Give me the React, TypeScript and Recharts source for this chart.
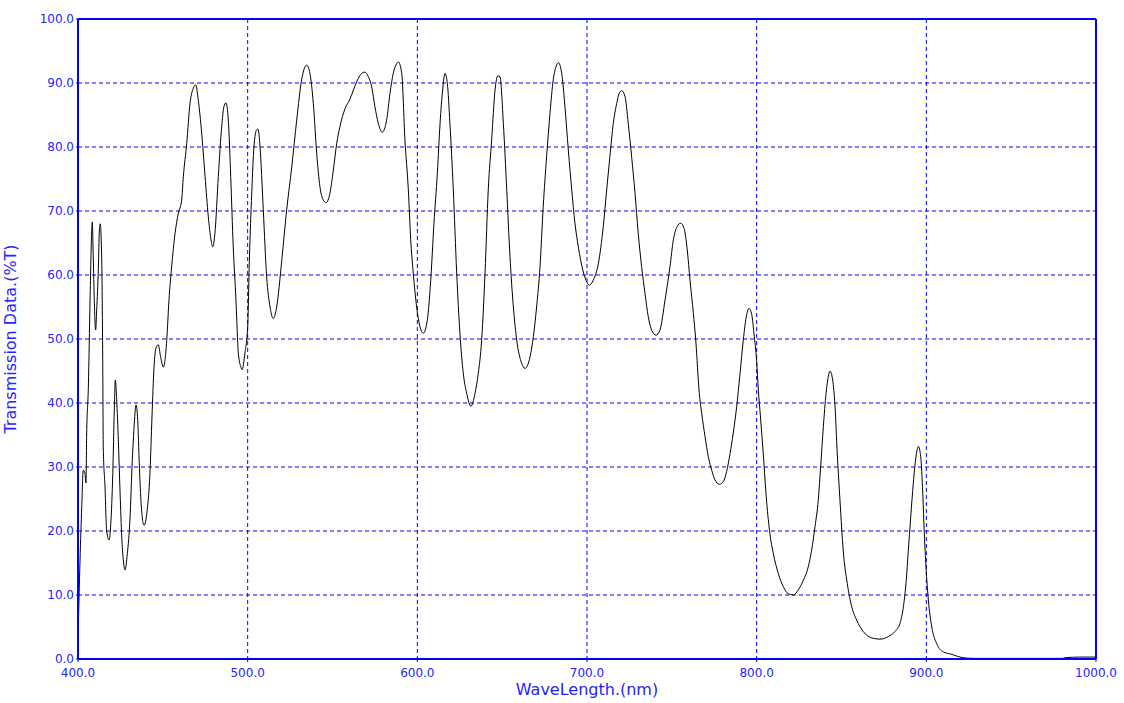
import React from 'react';
import {
  LineChart,
  Line,
  XAxis,
  YAxis,
  CartesianGrid,
  ReferenceLine,
} from 'recharts';

// wavelength (nm)
const wavelengths = [
  400.0, 401.2, 402.2, 403.1, 404.1, 404.7, 405.1, 406.1, 407.1, 408.1,
  408.4, 409.0, 409.6, 410.4, 411.0, 412.0, 412.6, 413.1, 414.0, 414.6,
  414.9, 415.9, 416.9, 418.3, 419.3, 420.5, 421.4, 422.0, 422.8, 423.8,
  424.8, 425.8, 426.7, 427.7, 429.1, 430.6, 432.0, 433.0, 434.2, 435.2,
  436.1, 437.1, 438.9, 440.8, 442.4, 443.6, 444.8, 446.0, 447.3, 448.7,
  450.3, 452.3, 453.6, 455.2, 457.2, 459.1, 461.1, 462.1, 464.1, 466.0,
  468.0, 469.4, 470.9, 472.9, 474.9, 476.8, 478.4, 479.4, 480.7, 482.7,
  484.7, 486.0, 487.2, 488.6, 490.0, 491.5, 493.1, 494.5, 495.9, 496.7,
  498.4, 500.0, 501.0, 502.4, 503.7, 505.3, 506.1, 507.3, 509.2, 511.2,
  513.2, 515.1, 517.1, 520.1, 523.0, 526.0, 528.9, 531.8, 534.8, 536.7,
  538.7, 540.7, 542.6, 544.6, 546.2, 548.5, 550.5, 552.5, 554.4, 557.4,
  560.3, 562.3, 565.2, 567.2, 569.1, 571.1, 573.1, 575.0, 577.0, 579.3,
  581.9, 583.9, 585.8, 587.8, 588.8, 590.8, 592.7, 594.7, 596.1, 597.6,
  599.6, 601.6, 603.5, 605.9, 607.9, 609.8, 611.8, 613.4, 614.9, 616.3,
  617.7, 619.2, 621.2, 623.2, 625.1, 627.1, 629.1, 631.6, 634.0, 635.9,
  637.9, 639.9, 641.8, 643.8, 645.8, 647.4, 648.7, 650.7, 652.7, 654.6,
  656.6, 658.6, 661.5, 663.5, 666.4, 668.4, 670.3, 672.3, 674.2, 676.2,
  678.2, 680.1, 682.1, 683.1, 685.1, 687.0, 689.0, 691.0, 692.9, 694.9,
  697.5, 699.4, 701.4, 703.7, 706.7, 709.6, 711.6, 713.5, 715.5, 717.5,
  719.0, 720.4, 722.4, 724.3, 726.3, 728.3, 730.2, 732.2, 734.2, 736.1,
  738.1, 740.7, 743.0, 746.0, 748.9, 750.9, 753.2, 755.2, 757.2, 759.1,
  760.7, 762.7, 764.1, 766.2, 767.6, 769.6, 771.5, 773.5, 775.4, 778.0,
  780.3, 782.3, 784.3, 786.2, 788.2, 790.2, 792.1, 794.1, 795.5, 797.1,
  798.4, 800.0, 801.0, 802.2, 803.9, 805.9, 807.8, 809.8, 812.7, 815.7,
  818.6, 821.6, 824.5, 827.5, 830.4, 832.4, 834.4, 836.3, 837.7, 839.3,
  840.9, 842.2, 843.2, 844.8, 846.2, 847.5, 849.1, 851.0, 853.4, 856.0,
  858.9, 862.8, 867.8, 872.7, 877.6, 881.5, 884.5, 886.5, 888.0, 889.4,
  890.8, 892.3, 893.9, 895.3, 896.7, 897.9, 898.8, 899.8, 901.2, 903.2,
  906.1, 910.0, 914.0, 921.8, 927.5, 980.5, 981.7, 990.5, 1000.0,
];

// transmission (%T), same order as wavelengths
const transmission = [
  3, 15.5, 23.7, 29.5, 29, 27.5, 35, 42.5, 56, 67,
  68.3, 62.8, 56, 51.4, 54.5, 61, 67, 68, 62, 45.6,
  33, 27, 20, 18.6, 21, 29, 39, 43.6, 40.5, 34,
  26, 19, 15.5, 13.9, 16.5, 21.7, 31, 36, 39.7, 37.3,
  30.6, 24.8, 20.9, 23.3, 29, 37.8, 45.6, 48.6, 49.1, 47.2,
  45.6, 49.8, 56, 61.3, 66.5, 69.6, 71.7, 75.4, 80.6, 86.8,
  89.2, 89.7, 87.3, 82.2, 75.4, 69.1, 65.5, 64.4, 66.5, 75.4,
  83.2, 86.3, 86.9, 84.2, 75.4, 64.4, 56.1, 47.8, 45.7, 45.2,
  47.8, 51.9, 62.3, 72.8, 80, 82.7, 82.8, 80, 70.2, 59.7,
  55, 53.2, 55, 62.3, 70.2, 76.9, 84.2, 90.5, 92.8, 91.5,
  86.8, 79, 73.8, 71.7, 71.3, 72.8, 76.4, 80.6, 83.2, 86,
  87.5, 88.9, 90.7, 91.5, 91.7, 91, 89.4, 86.3, 83.7, 82.3,
  84.2, 88.4, 91.5, 93, 93.3, 91.5, 81.1, 73.3, 65.5, 60.3,
  55, 51.9, 50.9, 53, 59.2, 68.1, 75.9, 83.7, 88.9, 91.5,
  89.9, 83.7, 73.3, 60.3, 50.9, 44.6, 41.5, 39.5, 41.5, 44.6,
  49.8, 60.3, 73.3, 81.1, 88.9, 91.1, 91, 83.7, 73.3, 62.9,
  55, 49.8, 46.2, 45.4, 47.2, 50.4, 55, 61.3, 70.7, 78.5,
  85.3, 90.5, 92.8, 93.2, 91.5, 86.3, 79.5, 73.3, 68.1, 64.4,
  60.8, 59.2, 58.4, 59.2, 61.8, 67.6, 73.3, 78.5, 83.7, 86.8,
  88.4, 88.8, 87.9, 83.7, 78.5, 72.8, 66.5, 61.3, 57.1, 53.5,
  51.4, 50.6, 51.4, 56.1, 61.3, 65.5, 67.6, 68.1, 67.3, 63.9,
  59.2, 54, 49.8, 41.5, 38.4, 34.7, 31.6, 29.5, 28, 27.3,
  27.7, 29.3, 32.1, 35.3, 39.4, 44.6, 49.8, 53.8, 54.8, 53.8,
  50.9, 46.5, 42, 38, 32, 24.5, 19.6, 16.5, 13.4, 11.3,
  10.2, 10, 10.8, 12.3, 14.4, 17, 20.7, 24.8, 30, 36.3,
  41.5, 44.1, 45, 43.6, 39.4, 32.1, 24.8, 17, 11.8, 8.2,
  6.1, 4.3, 3.3, 3.1, 3.5, 4.3, 5.6, 8.2, 11.8, 17,
  22.2, 27.4, 31.6, 33.2, 31.6, 25.9, 19.6, 14.4, 9.2, 5,
  2.4, 1.1, 0.8, 0.2, 0.1, 0.1, 0.2, 0.3, 0.3,
];

const xTicks = [400, 500, 600, 700, 800, 900, 1000];
const yTicks = [0, 10, 20, 30, 40, 50, 60, 70, 80, 90, 100];

const BLUE = '#0000ff';
const TEXT_BLUE = '#2424ff';
const FONT = '"DejaVu Sans", Verdana, sans-serif';

const data = wavelengths.map((w, i) => ({ nm: w, t: transmission[i] }));

export default function App() {
  return (
    <div style={{ position: 'absolute', left: 0, top: 0, width: 1124, height: 703, background: '#fff', fontFamily: FONT }}>
      <LineChart width={1124} height={703} data={data} margin={{ top: 19, right: 28, left: 0, bottom: 0 }}>
        <CartesianGrid stroke={BLUE} strokeDasharray="4 3" strokeWidth={1} />
        <XAxis
          dataKey="nm"
          type="number"
          domain={[400, 1000]}
          ticks={xTicks}
          allowDataOverflow
          height={44}
          tickFormatter={(v: number) => v.toFixed(1)}
          axisLine={{ stroke: BLUE, strokeWidth: 2 }}
          tickLine={{ stroke: BLUE }}
          tickSize={3}
          tickMargin={6}
          tick={{ fill: TEXT_BLUE, fontSize: 12, fontFamily: FONT }}
          label={{
            content: () => (
              <text x={587} y={689} textAnchor="middle" dominantBaseline="central" fill={TEXT_BLUE} fontSize={16} fontFamily={FONT}>
                WaveLength.(nm)
              </text>
            ),
          }}
        />
        <YAxis
          type="number"
          domain={[0, 100]}
          ticks={yTicks}
          allowDataOverflow
          width={78}
          tickFormatter={(v: number) => v.toFixed(1)}
          axisLine={{ stroke: BLUE, strokeWidth: 2 }}
          tickLine={{ stroke: BLUE }}
          tickSize={2}
          tickMargin={2}
          tick={{ fill: TEXT_BLUE, fontSize: 12, fontFamily: FONT }}
          label={{
            content: () => (
              <text x={10} y={339} transform="rotate(-90 10 339)" textAnchor="middle" dominantBaseline="central" fill={TEXT_BLUE} fontSize={16} fontFamily={FONT}>
                Transmission Data.(%T)
              </text>
            ),
          }}
        />
        <ReferenceLine y={100} stroke={BLUE} strokeWidth={2} />
        <ReferenceLine x={1000} stroke={BLUE} strokeWidth={2} />
        <Line
          type="monotone"
          dataKey="t"
          stroke="#000"
          strokeWidth={1}
          dot={false}
          activeDot={false}
          isAnimationActive={false}
        />
      </LineChart>
    </div>
  );
}
